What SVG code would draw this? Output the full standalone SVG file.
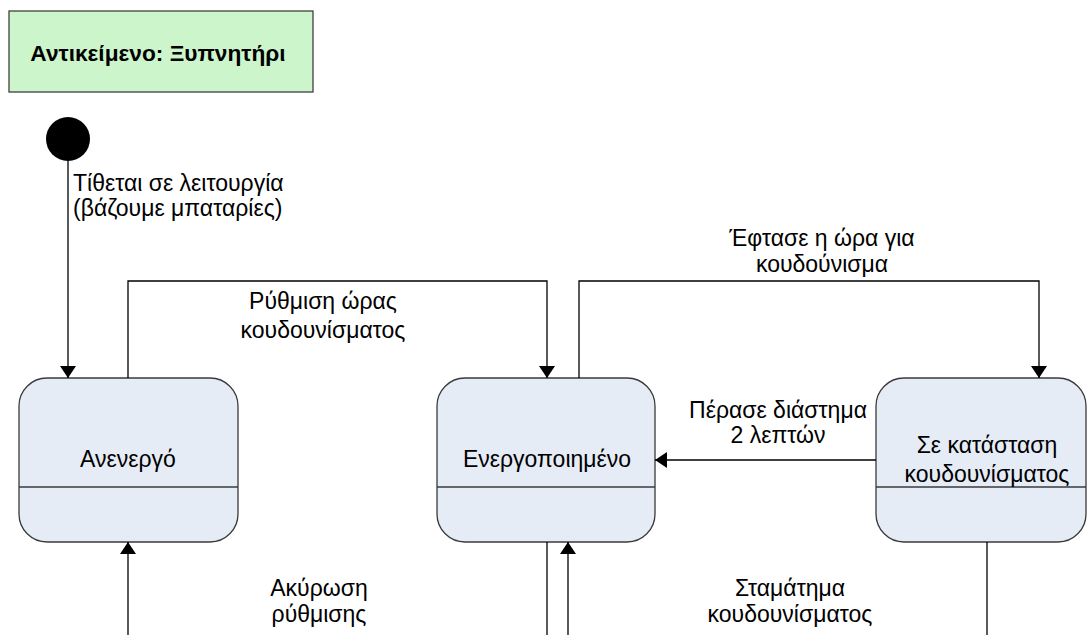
<svg xmlns="http://www.w3.org/2000/svg" width="1087" height="635" viewBox="0 0 1087 635">
<defs>
<marker id="ah" viewBox="0 0 12 16" refX="12" refY="8" markerWidth="12" markerHeight="16" markerUnits="userSpaceOnUse" orient="auto">
<path d="M0,0 L12,8 L0,16 Z" fill="#000"/>
</marker>
</defs>
<style>
text{font-family:"Liberation Sans",Arial,sans-serif;font-size:23px;fill:#000}
.st{fill:#E6ECF6;stroke:#3a3a3a;stroke-width:1.3}
.dv{stroke:#3a3a3a;stroke-width:1.3}
.c{fill:none;stroke:#000;stroke-width:1.3}
.m{text-anchor:middle}
</style>
<rect width="1087" height="635" fill="#fff"/>
<g id="title">
<rect x="9" y="11" width="304" height="81" fill="#CCF5CC" stroke="#404040" stroke-width="1.3"/>
<text x="158" y="61" class="m" style="font-weight:bold;font-size:22.7px">Αντικείμενο: Ξυπνητήρι</text>
</g>
<g id="initial">
<circle cx="68" cy="139" r="22" fill="#000"/>
</g>
<g id="inactive">
<rect x="19" y="378" width="219" height="164" rx="28" ry="28" class="st"/>
<line x1="19" y1="487" x2="238" y2="487" class="dv"/>
<text x="128" y="467" class="m">Ανενεργό</text>
</g>
<g id="active">
<rect x="437" y="378" width="218" height="164" rx="28" ry="28" class="st"/>
<line x1="437" y1="487" x2="655" y2="487" class="dv"/>
<text x="547" y="467" class="m">Ενεργοποιημένο</text>
</g>
<g id="ringing">
<rect x="876" y="378" width="210" height="164" rx="28" ry="28" class="st"/>
<line x1="876" y1="487" x2="1086" y2="487" class="dv"/>
<text x="987" y="453" class="m">Σε κατάσταση</text>
<text x="987" y="482" class="m">κουδουνίσματος</text>
</g>
<g id="connectors">
<path d="M68,161 V378" class="c" marker-end="url(#ah)"/>
<path d="M128,378 V281 H547 V378" class="c" marker-end="url(#ah)"/>
<path d="M579,378 V281 H1039 V378" class="c" marker-end="url(#ah)"/>
<path d="M876,460 H655" class="c" marker-end="url(#ah)"/>
<path d="M128,635 V542" class="c" marker-end="url(#ah)"/>
<path d="M547,542 V635" class="c"/>
<path d="M568,635 V542" class="c" marker-end="url(#ah)"/>
<path d="M987,542 V635" class="c"/>
</g>
<g id="labels">
<text x="73" y="191">Τίθεται σε λειτουργία</text>
<text x="73" y="216">(βάζουμε μπαταρίες)</text>
<text x="323" y="309" class="m">Ρύθμιση ώρας</text>
<text x="323" y="338" class="m">κουδουνίσματος</text>
<text x="822" y="246" class="m">Έφτασε η ώρα για</text>
<text x="822" y="272" class="m">κουδούνισμα</text>
<text x="778" y="418" class="m">Πέρασε διάστημα</text>
<text x="778" y="443" class="m">2 λεπτών</text>
<text x="319" y="596" class="m">Ακύρωση</text>
<text x="319" y="622" class="m">ρύθμισης</text>
<text x="790" y="596" class="m">Σταμάτημα</text>
<text x="790" y="622" class="m">κουδουνίσματος</text>
</g>
</svg>
